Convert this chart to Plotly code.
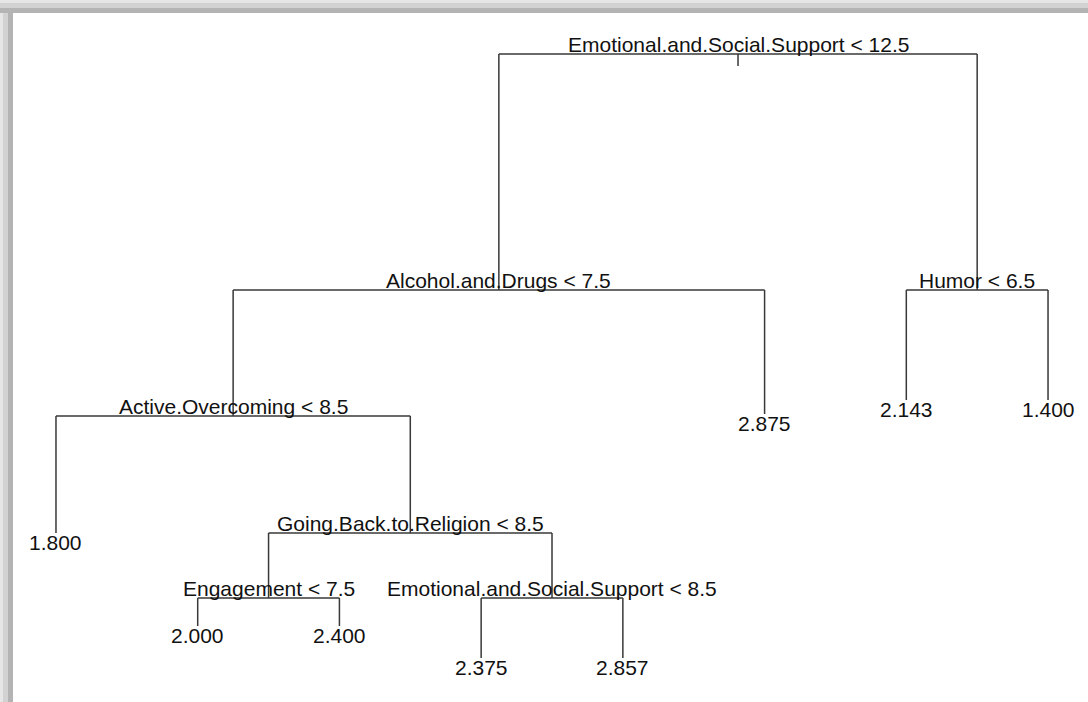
import plotly.graph_objects as go

# tree nodes, R-style numbering (children of n are 2n and 2n+1)
node_id = [1, 2, 3, 4, 5, 6, 7, 8, 9, 18, 19, 36, 37, 38, 39]
node_label = [
    "Emotional.and.Social.Support < 12.5",
    "Alcohol.and.Drugs < 7.5",
    "Humor < 6.5",
    "Active.Overcoming < 8.5",
    "2.875",
    "2.143",
    "1.400",
    "1.800",
    "Going.Back.to.Religion < 8.5",
    "Engagement < 7.5",
    "Emotional.and.Social.Support < 8.5",
    "2.000",
    "2.400",
    "2.375",
    "2.857",
]
# node heights (deviance scale)
node_height = [32.4, 20.6, 20.6, 14.3, 14.4, 15.1, 15.1, 8.45, 8.45, 5.2, 5.2, 3.8, 3.8, 2.2, 2.2]

label = dict(zip(node_id, node_label))
height = dict(zip(node_id, node_height))
ids = set(node_id)

# leaf order left to right, internal x = mean of children
xpos = {}
counter = [0]


def layout(n):
    if 2 * n in ids:
        layout(2 * n)
        layout(2 * n + 1)
        xpos[n] = (xpos[2 * n] + xpos[2 * n + 1]) / 2
    else:
        counter[0] += 1
        xpos[n] = counter[0]


layout(1)

xs, ys = [], []
for n in node_id:
    if n > 1:
        p = n // 2
        xs += [xpos[n], xpos[n], None]
        ys += [height[p], height[n], None]
    if 2 * n in ids:
        xs += [xpos[2 * n], xpos[2 * n + 1], None]
        ys += [height[n], height[n], None]
# root stem
xs += [xpos[1], xpos[1], None]
ys += [height[1], height[1] - 0.6, None]

fig = go.Figure()
fig.add_trace(go.Scatter(x=xs, y=ys, mode='lines', line=dict(color='#383838', width=1.5),
                         hoverinfo='skip', showlegend=False))

font = dict(family='Liberation Sans, Arial', size=21, color='#111111')
for n in node_id:
    if 2 * n in ids:
        fig.add_annotation(x=xpos[n], y=height[n], text=label[n], showarrow=False,
                           xanchor='center', yanchor='bottom', yshift=-4, font=font)
    else:
        fig.add_annotation(x=xpos[n], y=height[n], text=label[n], showarrow=False,
                           xanchor='center', yanchor='top', yshift=4, font=font)

# window shadow on top and left edges
shadow = [(0, 3, '#e6e6e6'), (3, 8, '#d2d2d2'), (8, 13, '#b4b4b4')]
for a, b, c in shadow:
    fig.add_shape(type='rect', xref='paper', yref='paper', x0=0, x1=1,
                  y0=1 - b / 702, y1=1 - a / 702, fillcolor=c, line_width=0, layer='below')
    fig.add_shape(type='rect', xref='paper', yref='paper', x0=a / 1088, x1=b / 1088,
                  y0=0, y1=1 - a / 702, fillcolor=c, line_width=0, layer='below')

fig.update_layout(
    width=1088, height=702,
    margin=dict(l=0, r=0, t=0, b=0),
    paper_bgcolor='white', plot_bgcolor='white',
    xaxis=dict(range=[0.605, 8.282], visible=False),
    yaxis=dict(range=[0, 35.1], visible=False),
)
fig.write_html("out.html", config={'displayModeBar': False},
               post_script="document.body.style.margin='0';")
